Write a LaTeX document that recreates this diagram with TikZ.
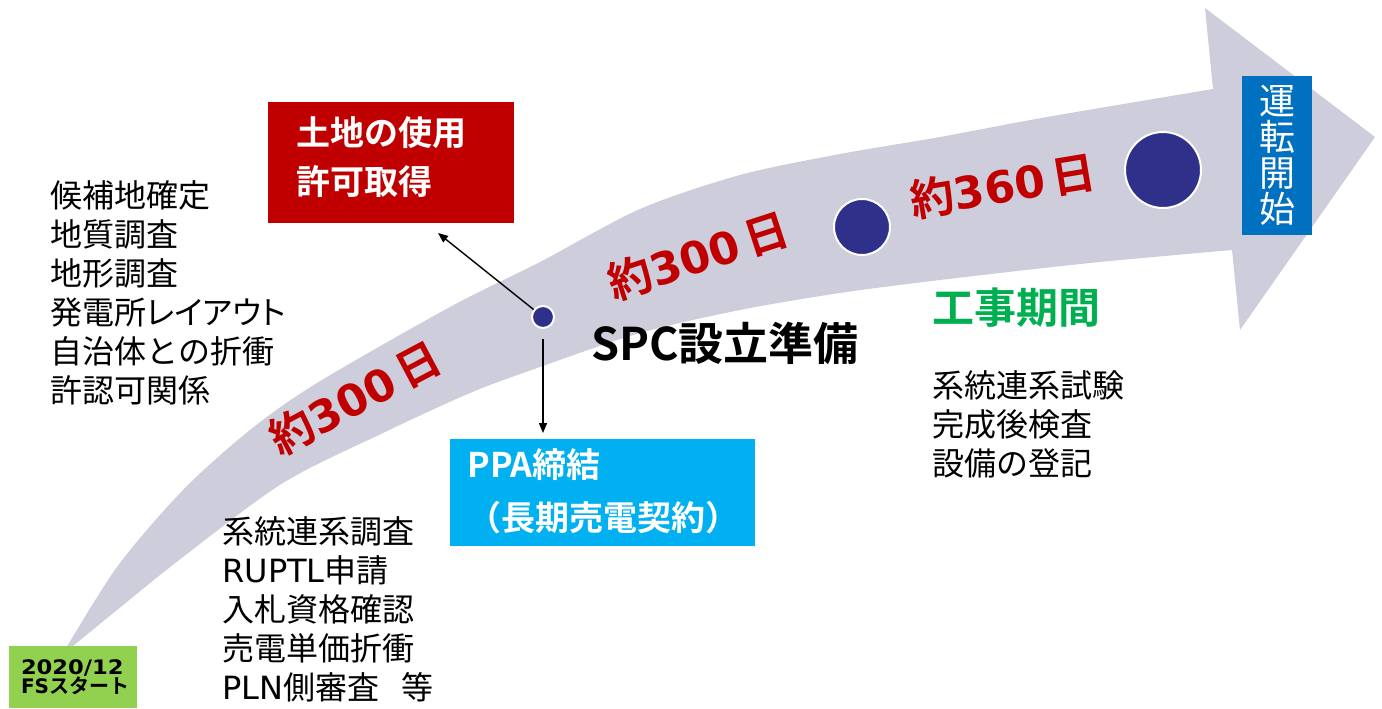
\documentclass[tikz,border=0pt]{standalone}
\usepackage{fontspec}
\setmainfont{Noto Sans CJK JP}[BoldFont={Noto Sans CJK JP Bold}]
\newfontfamily\dv{DejaVu Sans}[BoldFont={DejaVu Sans Bold}]
\newfontfamily\jpp{Noto Sans CJK JP}[RawFeature=+palt]
\usetikzlibrary{arrows.meta}
\definecolor{bandgray}{RGB}{205,205,219}
\definecolor{dotblue}{RGB}{46,48,138}
\definecolor{darkred}{RGB}{192,0,0}
\definecolor{skyblue}{RGB}{0,176,240}
\definecolor{midblue}{RGB}{0,112,192}
\definecolor{lgreen}{RGB}{146,208,80}
\definecolor{tgreen}{RGB}{0,176,80}
\tikzset{
  listtext/.style={font=\fontsize{16pt}{19.5pt}\selectfont, align=left, anchor=west, inner sep=0pt},
  daylabel/.style={font=\fontsize{22pt}{22pt}\selectfont\bfseries, text=darkred, inner sep=0pt},
  milestone/.style={circle, fill=dotblue, draw=white, line width=1pt, inner sep=0pt},
  conn/.style={draw=black, line width=0.7pt, -{Triangle[length=5pt,width=4pt]}},
  boxtxt/.style={text=white, align=left, inner sep=0pt, anchor=west},
  plainbox/.style={inner sep=0pt, draw=none}
}
\begin{document}
\begin{tikzpicture}[x=0.5pt,y=-0.5pt]
\useasboundingbox (0,0) rectangle (1382,708);
% band arrow
\fill[bandgray] plot[smooth, tension=0.5] coordinates {(62,655) (117,567) (183,490) (250,430) (317,383) (450,307) (540,262) (640,209) (740,175) (840,154) (940,137) (1047,117) (1213,89)}
  -- (1205,8) -- (1375,137) -- (1240,330) -- (1232,250)
  -- plot[smooth, tension=0.5] coordinates {(1232,250) (1090,263) (940,280) (840,293) (740,310) (640,333) (540,367) (470,393) (383,433) (283,483) (183,557) (117,610) (62,655)} -- cycle;

% milestones
\node[milestone, minimum size=11pt] (dot1) at (543,317) {};
\node[milestone, minimum size=28pt] (dot2) at (862,227) {};
\node[milestone, minimum size=38pt] (dot3) at (1163,170) {};

% day labels
\node[daylabel, rotate=28] (d1) at (355,398) {約{\dv 300}\,日};
\node[daylabel, rotate=18] (d2) at (698,256) {約{\dv 300}\,日};
\node[daylabel, rotate=9.5] (d3) at (1003,186) {約{\dv 360}\,日};

% boxes
\node[plainbox, fill=darkred, minimum width=123pt, minimum height=60.5pt] (landbox) at (391,162.5) {};
\node[boxtxt, font=\fontsize{17pt}{24.5pt}\selectfont\bfseries] (landtxt) at (296,157.5) {土地の使用\\許可取得};

\node[plainbox, fill=skyblue, minimum width=152.5pt, minimum height=53.5pt] (ppabox) at (602.5,492.5) {};
\node[boxtxt, font=\fontsize{17pt}{26.5pt}\selectfont\bfseries] (ppatxt) at (467,491.5) {PPA締結\\（長期売電契約）};

\node[plainbox, fill=lgreen, minimum width=64pt, minimum height=31pt, align=left, text width=52pt, font=\fontsize{10pt}{9.5pt}\selectfont\bfseries] (fs) at (73,677) {{\dv\addfontfeature{FakeStretch=1.13}2020/12}\\{\dv FS}スタート};

\node[plainbox, fill=midblue, minimum width=35pt, minimum height=79.5pt, text=white, align=center, font=\fontsize{18pt}{18pt}\selectfont] (op) at (1277,155.5) {運\\転\\開\\始};

% connectors
\coordinate (rtip) at (438,233);
\coordinate (ptip) at (543,433);
\draw[conn] (dot1) -- (rtip);
\draw[conn, shorten <=5pt] (dot1) -- (ptip);

% texts
\node[listtext] (list1) at (50,293) {候補地確定\\地質調査\\地形調査\\発電所{\jpp レイアウト}\\自治体との折衝\\許認可関係};
\node[listtext] (list2) at (222,609.5) {系統連系調査\\{\dv RUPTL}申請\\入札資格確認\\売電単価折衝\\{\dv PLN}側審査\hspace{0.7em}等};
\node[listtext] (list3) at (932,424.5) {系統連系試験\\完成後検査\\設備の登記};

\node[inner sep=0pt, font=\fontsize{22.5pt}{22.5pt}\selectfont\bfseries] (spc) at (725,343) {SPC設立準備};
\node[inner sep=0pt, anchor=west, text=tgreen, font=\fontsize{21pt}{21pt}\selectfont\bfseries] (koji) at (932,308) {工事期間};
\end{tikzpicture}
\end{document}
